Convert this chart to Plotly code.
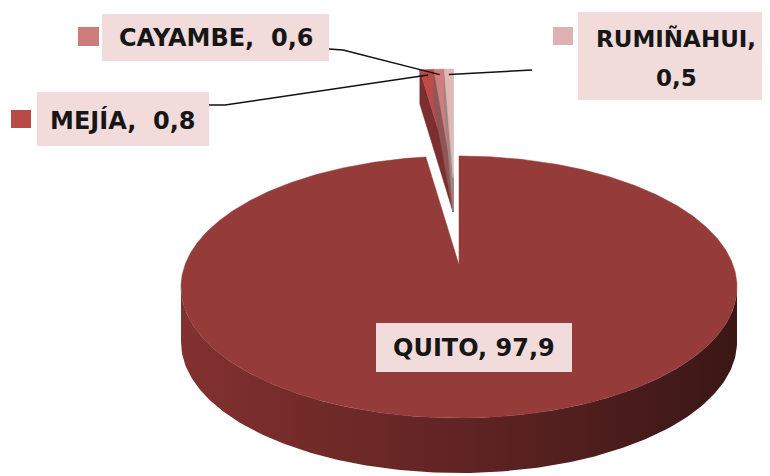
import numpy as np
import plotly.graph_objects as go

# ---------------- data ----------------
labels = ["QUITO", "MEJÍA", "CAYAMBE", "RUMIÑAHUI"]
values = [97.9, 0.8, 0.6, 0.5]

# ---------------- style ----------------
face_colors = ["#953B3A", "#BC4B49", "#CF7E7D", "#E2B8B7"]
side_colors = ["#6A2828", "#7B2F2E", "#8E5655", "#9C8585"]
key_colors = ["#953B3A", "#B94A48", "#CD7D7C", "#DEB2B2"]
exploded = [False, True, True, True]
BOX_FILL = "#F2DCDB"
TEXT_COLOR = "#161616"
FONT = dict(family="DejaVu Sans", size=24, color=TEXT_COLOR, weight="bold")

W, H = 770, 476
PAGE_MARGIN = 8                           # default body margin of the page
CX, CY, RX, RY = 459, 287, 278, 131      # ellipse of the top face
APEX_DY = -22                             # perspective: projected centre
THICK = 55                                # side wall thickness
EXP_DX, EXP_DY, EXP_THICK = -6, -87, 34   # explosion of small slices

# label boxes: (x0, y0, x1, y1), text centres, key square, leader anchors
label_layout = {
    "QUITO": dict(box=(376, 323, 572, 372), text=[(474, 347.5)], key=None, anchor=None, size=24),
    "MEJÍA": dict(box=(37, 92, 209, 146), text=[(123, 120)], key=(11, 110, 31, 128),
                  anchor=[(209, 105), (225, 105)], size=24),
    "CAYAMBE": dict(box=(102, 14, 329, 61), text=[(215.5, 38)], key=(78, 27, 99, 46),
                    anchor=[(329, 49), (343, 50)], size=24),
    "RUMIÑAHUI": dict(box=(578, 12, 790, 100), text=[(676, 38), (676, 78)],
                      key=(553, 27, 573, 45), anchor=[(532, 70)], size=23),
}


def rim(theta, dx=0.0, dy=0.0):
    t = np.radians(theta)
    return CX + RX * np.sin(t) + dx, CY - RY * np.cos(t) + dy


total = sum(values)
bounds = np.concatenate([[0.0], np.cumsum(values) / total * 360.0])

fig = go.Figure()

# ---- side wall of the main slice (front half), shaded left->right ----
main_a0, main_a1 = bounds[0], bounds[1]
w_from, w_to = max(90.0, main_a0), min(270.0, main_a1)
th = np.linspace(w_from, w_to, 200)
xt, yt = rim(th)
xb, yb = rim(th[::-1], 0, THICK)
fig.add_trace(go.Scatter(
    x=np.concatenate([xt, xb, xt[:1]]), y=np.concatenate([yt, yb, yt[:1]]),
    mode="lines", fill="toself",
    fillgradient=dict(type="horizontal",
                      colorscale=[[0, "rgb(130,49,47)"], [0.5, "rgb(96,36,35)"],
                                  [1, "rgb(58,23,22)"]]),
    line=dict(width=0), hoverinfo="skip", showlegend=False))

# ---- top faces (and walls of exploded slices) ----
for i, lab in enumerate(labels):
    a0, a1 = bounds[i], bounds[i + 1]
    dx, dy = (EXP_DX, EXP_DY) if exploded[i] else (0, 0)
    th = np.linspace(a0, a1, max(4, int((a1 - a0) * 2)))
    ax, ay = CX + dx, CY + APEX_DY + dy
    xr, yr = rim(th, dx, dy)
    if exploded[i]:
        for a in (a0, a1):
            rx_, ry_ = rim(a, dx, dy)
            fig.add_trace(go.Scatter(
                x=[ax, rx_, rx_, ax, ax], y=[ay, ry_, ry_ + EXP_THICK, ay + EXP_THICK, ay],
                mode="lines", fill="toself", fillcolor=side_colors[i],
                line=dict(color=side_colors[i], width=0.5), hoverinfo="skip",
                showlegend=False))
    fig.add_trace(go.Scatter(
        x=np.concatenate([[ax], xr, [ax]]), y=np.concatenate([[ay], yr, [ay]]),
        mode="lines", fill="toself", fillcolor=face_colors[i],
        line=dict(color=face_colors[i], width=0.5), name=lab, hoverinfo="skip",
        showlegend=False))

# ---- leader lines ----
for i, lab in enumerate(labels):
    lay = label_layout[lab]
    if not lay["anchor"]:
        continue
    am = (bounds[i] + bounds[i + 1]) / 2
    mx, my = rim(am, EXP_DX, EXP_DY)
    ax, ay = CX + EXP_DX, CY + APEX_DY + EXP_DY
    ex, ey = ax + 0.95 * (mx - ax), ay + 0.95 * (my - ay)
    pts = lay["anchor"] + [(ex, ey)]
    fig.add_trace(go.Scatter(x=[p[0] for p in pts], y=[p[1] for p in pts], mode="lines",
                             line=dict(color="#111111", width=1.4), hoverinfo="skip",
                             showlegend=False))

# ---- label boxes, keys and texts ----
shapes, annotations = [], []
for i, lab in enumerate(labels):
    lay = label_layout[lab]
    x0, y0, x1, y1 = lay["box"]
    shapes.append(dict(type="rect", xref="x", yref="y", x0=x0, y0=y0, x1=x1, y1=y1,
                       fillcolor=BOX_FILL, line=dict(width=0), layer="above"))
    if lay["key"]:
        k0, k1, k2, k3 = lay["key"]
        shapes.append(dict(type="rect", xref="x", yref="y", x0=k0, y0=k1, x1=k2, y1=k3,
                           fillcolor=key_colors[i], line=dict(width=0), layer="above"))
    val = ("%.1f" % values[i]).replace(".", ",")
    if len(lay["text"]) == 2:
        lines = [lab + ",", val]
    else:
        sep = ", " if lab == "QUITO" else ",\u00a0 "
        lines = [lab + sep + val]
    for (tx, ty), line in zip(lay["text"], lines):
        annotations.append(dict(x=tx, y=ty, xref="x", yref="y", text=line, showarrow=False,
                                font=dict(FONT, size=lay["size"]),
                                xanchor="center", yanchor="middle"))

fig.update_layout(
    width=W, height=H,
    margin=dict(l=0, r=0, t=0, b=0),
    paper_bgcolor="white", plot_bgcolor="white",
    xaxis=dict(range=[PAGE_MARGIN, W + PAGE_MARGIN], visible=False, fixedrange=True),
    yaxis=dict(range=[H + PAGE_MARGIN, PAGE_MARGIN], visible=False, fixedrange=True),
    shapes=shapes, annotations=annotations,
    showlegend=False,
)

fig.write_html("out.html")
